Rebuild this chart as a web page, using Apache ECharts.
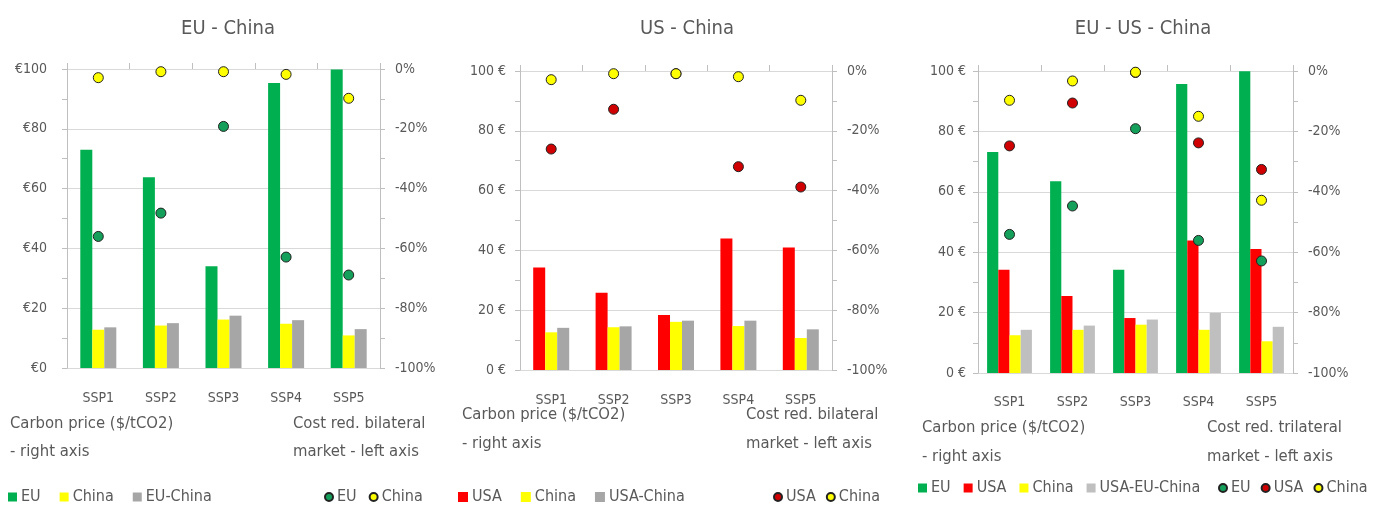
<!DOCTYPE html>
<html>
<head>
<meta charset="utf-8">
<script src="https://cdn.jsdelivr.net/npm/echarts@6/dist/echarts.min.js"></script>
<style>
html,body{margin:0;padding:0;background:#fff;}
#c{width:1381px;height:507px;}
</style>
</head>
<body>
<div id="c"></div>
<script>
// ---------- DATA ----------
const categories = ['SSP1', 'SSP2', 'SSP3', 'SSP4', 'SSP5'];
const titles = ['EU - China', 'US - China', 'EU - US - China'];

// Panel 1: EU - China (carbon price, left axis)
const p1EU = [73.0, 63.8, 34.0, 95.3, 99.8];
const p1China = [12.8, 14.2, 16.2, 14.8, 10.9];
const p1EUChina = [13.6, 15.0, 17.5, 16.0, 13.0];
// Panel 1: cost reduction (right axis, %)
const p1CostEU = [-56.0, -48.2, -19.2, -62.9, -68.9];
const p1CostChina = [-2.9, -0.9, -0.9, -1.8, -9.8];

// Panel 2: US - China
const p2USA = [34.3, 25.8, 18.4, 44.0, 41.0];
const p2China = [12.6, 14.3, 16.1, 14.7, 10.7];
const p2USAChina = [14.1, 14.6, 16.5, 16.5, 13.6];
const p2CostUSA = [-26.1, -12.8, -0.9, -32.0, -38.8];
const p2CostChina = [-2.9, -0.9, -0.9, -1.9, -9.8];

// Panel 3: EU - US - China
const p3EU = [73.2, 63.5, 34.2, 95.7, 99.9];
const p3USA = [34.2, 25.5, 18.2, 43.9, 41.1];
const p3China = [12.5, 14.3, 16.0, 14.3, 10.5];
const p3USAEUChina = [14.3, 15.7, 17.7, 19.9, 15.3];
const p3CostEU = [-54.1, -44.7, -19.1, -56.1, -62.9];
const p3CostUSA = [-24.8, -10.6, -0.5, -23.8, -32.6];
const p3CostChina = [-9.7, -3.3, -0.4, -15.0, -42.8];

// Tick labels
const leftTicksP1 = ['€0', '€20', '€40', '€60', '€80', '€100'];
const leftTicksP23 = ['0 €', '20 €', '40 €', '60 €', '80 €', '100 €'];
const rightTicks = ['-100%', '-80%', '-60%', '-40%', '-20%', '0%'];
const noteLeft = ['Carbon price ($/tCO2)', '- right axis'];
const noteRightBi = ['Cost red. bilateral', 'market - left axis'];
const noteRightTri = ['Cost red. trilateral', 'market - left axis'];

// ---------- STYLE ----------
const FONT = '"Liberation Sans Narrow", "DejaVu Sans Condensed", "Liberation Sans", sans-serif';
const TXT = '#595959';
const AX = '#BFBFBF';
const GRIDC = '#D9D9D9';
const C = {
  green: '#00B050', red: '#FF0000', yellow: '#FFFF00', gray: '#A6A6A6', gray3: '#BFBFBF',
  dotGreen: '#14A05A', dotRed: '#D00000', dotYellow: '#FFFF00'
};

const grids = [
  {left: 67, top: 69, width: 313, height: 299},
  {left: 520, top: 71, width: 312, height: 299},
  {left: 978, top: 71, width: 315, height: 302}
];
const leftMargins = [20, 14, 12];

const xAxis = [], yAxis = [];
grids.forEach((g, i) => {
  xAxis.push({
    type: 'category', gridIndex: i, data: categories, position: 'bottom',
    axisLine: {show: false}, axisTick: {show: false},
    axisLabel: {color: TXT, fontSize: 14, margin: i === 2 ? 22 : 23, fontFamily: FONT}
  });
  xAxis.push({
    type: 'category', gridIndex: i, data: categories, position: 'top',
    axisLine: {show: false},
    axisTick: {show: true, length: 6, lineStyle: {color: AX}},
    axisLabel: {show: false}
  });
  const lt = i === 0 ? leftTicksP1 : leftTicksP23;
  yAxis.push({
    type: 'value', gridIndex: i, min: 0, max: 100, interval: 20, position: 'left',
    axisLine: {show: true, lineStyle: {color: AX}},
    axisTick: {show: true, length: 5, lineStyle: {color: AX}},
    minorTick: {show: true, splitNumber: 2, length: 5, lineStyle: {color: AX}},
    splitLine: {show: true, lineStyle: {color: GRIDC}},
    axisLabel: {color: TXT, fontSize: 14, margin: leftMargins[i], fontFamily: FONT,
      formatter: v => lt[Math.round(v / 20)]}
  });
  yAxis.push({
    type: 'value', gridIndex: i, min: -100, max: 0, interval: 20, position: 'right',
    axisLine: {show: true, lineStyle: {color: AX}},
    axisTick: {show: true, length: 5, lineStyle: {color: AX}},
    minorTick: {show: true, splitNumber: 2, length: 5, lineStyle: {color: AX}},
    splitLine: {show: false},
    axisLabel: {color: TXT, fontSize: 14, margin: 15, fontFamily: FONT,
      formatter: v => rightTicks[Math.round((v + 100) / 20)]}
  });
});

function bar(name, data, color, gi, w) {
  return {
    name: name, type: 'bar', xAxisIndex: gi * 2, yAxisIndex: gi * 2, data: data,
    barWidth: w, barGap: '0%', itemStyle: {color: color}, silent: true
  };
}
function dot(name, data, color, gi) {
  return {
    name: name, type: 'scatter', xAxisIndex: gi * 2, yAxisIndex: gi * 2 + 1, data: data,
    symbol: 'circle', symbolSize: 10, z: 5,
    itemStyle: {color: color, borderColor: '#222', borderWidth: 1, opacity: 1}
  };
}

const series = [
  bar('EU|1', p1EU, C.green, 0, 12),
  bar('China|1', p1China, C.yellow, 0, 12),
  bar('EU-China|1', p1EUChina, C.gray, 0, 12),
  dot('EU|1d', p1CostEU, C.dotGreen, 0),
  dot('China|1d', p1CostChina, C.dotYellow, 0),

  bar('USA|2', p2USA, C.red, 1, 12),
  bar('China|2', p2China, C.yellow, 1, 12),
  bar('USA-China|2', p2USAChina, C.gray, 1, 12),
  dot('USA|2d', p2CostUSA, C.dotRed, 1),
  dot('China|2d', p2CostChina, C.dotYellow, 1),

  bar('EU|3', p3EU, C.green, 2, 11.2),
  bar('USA|3', p3USA, C.red, 2, 11.2),
  bar('China|3', p3China, C.yellow, 2, 11.2),
  bar('USA-EU-China|3', p3USAEUChina, C.gray3, 2, 11.2),
  dot('EU|3d', p3CostEU, C.dotGreen, 2),
  dot('USA|3d', p3CostUSA, C.dotRed, 2),
  dot('China|3d', p3CostChina, C.dotYellow, 2)
];

const fmt = n => n.split('|')[0];
function legend(left, top, names, icon, size, gap) {
  return {
    left: left, top: top, padding: 0, itemGap: gap, itemWidth: size, itemHeight: size,
    icon: icon, selectedMode: false, formatter: fmt,
    textStyle: {color: TXT, fontSize: 16, fontFamily: FONT, padding: [0, 0, 0, -1]},
    data: names
  };
}
const legends = [
  legend(8, 489, ['EU|1', 'China|1', 'EU-China|1'], 'rect', 9, 19),
  legend(324, 489, ['EU|1d', 'China|1d'], 'circle', 8, 12),
  legend(458, 489, ['USA|2', 'China|2', 'USA-China|2'], 'rect', 10, 19),
  legend(773, 489, ['USA|2d', 'China|2d'], 'circle', 8, 10),
  legend(918, 480, ['EU|3', 'USA|3', 'China|3', 'USA-EU-China|3'], 'rect', 9, 13),
  legend(1218, 480, ['EU|3d', 'USA|3d', 'China|3d'], 'circle', 8, 10)
];

function note(x, y, lines, lh) {
  return lines.map((t, k) => ({
    type: 'text', x: x, y: y + k * lh,
    style: {text: t, fill: TXT, font: '16.5px ' + FONT, verticalAlign: 'middle', align: 'left'}
  }));
}
const graphic = [].concat(
  note(10, 424, noteLeft, 28),
  note(293, 424, noteRightBi, 28),
  note(462, 415, noteLeft, 29),
  note(746, 415, noteRightBi, 29),
  note(922, 428, noteLeft, 29),
  note(1207, 428, noteRightTri, 29)
);

const titleCenters = [223, 682, 1138];
const title = titles.map((t, i) => ({
  text: t, left: titleCenters[i], top: 14, textAlign: 'center',
  textStyle: {color: TXT, fontSize: 20, fontWeight: 'normal', fontFamily: FONT}
}));

const chart = echarts.init(document.getElementById('c'), null, {renderer: 'canvas'});
chart.setOption({
  animation: false,
  backgroundColor: '#ffffff',
  textStyle: {fontFamily: FONT},
  title: title,
  grid: grids,
  xAxis: xAxis,
  yAxis: yAxis,
  legend: legends,
  graphic: graphic,
  series: series
});
</script>
</body>
</html>
